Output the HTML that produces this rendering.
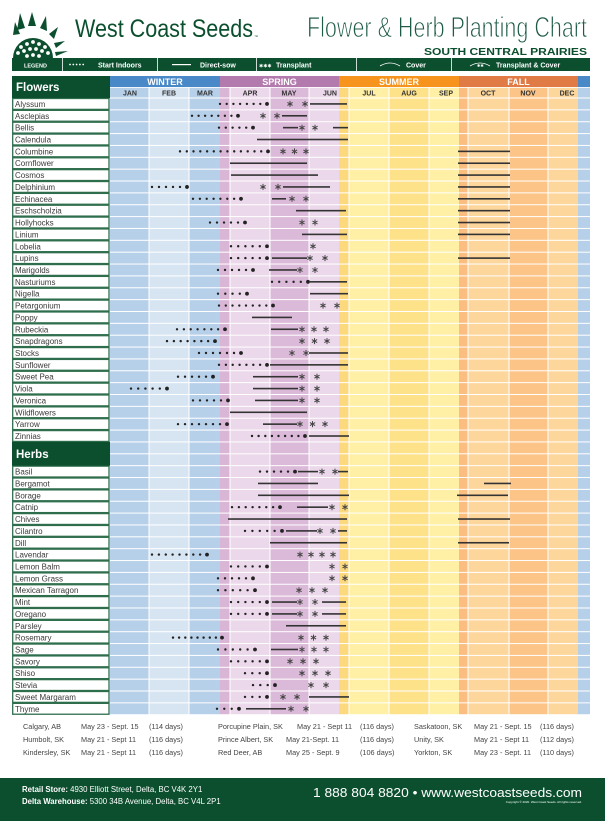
<!DOCTYPE html>
<html><head><meta charset="utf-8"><style>
html,body{margin:0;padding:0;background:#fff;width:605px;height:821px;overflow:hidden}
svg{display:block}
text{font-family:"Liberation Sans",sans-serif}
</style></head><body>
<svg id="s" width="605" height="821" viewBox="0 0 605 821" xmlns="http://www.w3.org/2000/svg"></svg>
<script>
(function(){
const S=document.getElementById('s');let h='';
const G='#0b4f2e';
function R(x,y,w,hh,f,ex){h+=`<rect x="${x}" y="${y}" width="${w}" height="${hh}" fill="${f}" ${ex||''}/>`;}
function T(x,y,t,st){h+=`<text x="${x}" y="${y}" ${st}>${t}</text>`;}
// logo
h+=`<g fill="${G}">`;
h+=`<path d="M13 58 A20 20 0 0 1 53 58 Z"/>`;
h+=`<path d="M17 30 L20 13 L25 28 Z"/><path d="M28 26 L32 12 L36 26 Z"/><path d="M40 28 L46 16 L47 31 Z"/><path d="M49 34 L58 27 L54 39 Z"/><path d="M54 43 L65 41 L56 48 Z"/><path d="M55 52 L68 51 L56 56 Z"/><path d="M13 35 L15 22 L20 34 Z"/>`;
h+=`</g>`;
[[21,47],[27,44],[33,42],[39,44],[45,47],[18,53],[24,51],[30,49],[36,49],[42,51],[48,53],[27,56],[33,55],[39,56]].forEach(([x,y])=>{h+=`<circle cx="${x}" cy="${y}" r="1.9" fill="#fff"/>`;});
T(75,37,'West Coast Seeds',`font-family="Liberation Serif" font-size="25" fill="${G}" textLength="178" lengthAdjust="spacingAndGlyphs"`);
T(254,38,'™',`font-size="4" fill="${G}"`);
T(307,37,'Flower &amp; Herb Planting Chart',`font-size="29" fill="#1d5a48" textLength="280" lengthAdjust="spacingAndGlyphs" stroke="#fff" stroke-width="0.9"`);
T(587,55,'SOUTH CENTRAL PRAIRIES',`font-size="10.5" font-weight="bold" fill="${G}" text-anchor="end" textLength="163" lengthAdjust="spacingAndGlyphs"`);
// legend
R(12,58,578,13,G);
[62,157,256,356,451].forEach(x=>R(x,58,0.8,13,'#fff'));
const lt=`font-size="7" font-weight="bold" fill="#fff"`;
T(24,67.5,'LEGEND',`font-size="5.5" font-weight="bold" fill="#fff"`);
for(let i=0;i<5;i++)h+=`<circle cx="${70+i*3.3}" cy="64.5" r="0.9" fill="#fff"/>`;
T(98,67.5,'Start Indoors',lt);
R(172,64,19,1.2,'#fff');T(200,67.5,'Direct-sow',lt);
T(259,67.5,'✱✱✱',`font-size="5" fill="#fff"`);T(276,67.5,'Transplant',lt);
h+=`<path d="M380 66 Q390 60 400 66" stroke="#fff" fill="none" stroke-width="0.8"/>`;T(406,67.5,'Cover',lt);
h+=`<path d="M470 66 Q480 60 490 66" stroke="#fff" fill="none" stroke-width="0.8"/>`;T(477,67,'✱✱',`font-size="4" fill="#fff"`);T(496,67.5,'Transplant &amp; Cover',lt);
// chart background
const Y0=87,rh=11.86,r0=98,bot=r0+52*rh;
const cols=[[110,149,'#b7d0ea'],[149,189,'#d7e5f3'],[189,220,'#b7d0ea'],[220,230,'#dab6d6'],[230,270,'#ebd8ea'],[270,309,'#dbb9d8'],[309,339,'#ebd8ea'],[339,349,'#fdd97e'],[349,389,'#fff0a5'],[389,429,'#fee28a'],[429,459,'#fff0a5'],[459,468,'#fbbd80'],[468,509,'#fdd69c'],[509,548,'#fcc486'],[548,578,'#fdd69c'],[578,590,'#b7d0ea']];
cols.forEach(([a,b,c])=>R(a,Y0,b-a,bot-Y0,c));
const sx=[[110,220,'#4a89c8','WINTER'],[220,339,'#b37bad','SPRING'],[339,459,'#f7941d','SUMMER'],[459,578,'#e07b45','FALL'],[578,590,'#4a89c8','']];
sx.forEach(([a,b,c,t])=>{R(a,76,b-a,11,c);if(t)T((a+b)/2,85,t,`font-size="9" font-weight="bold" fill="#fff" text-anchor="middle"`);});
[149,189,230,270,309,349,389,429,468,509,548].forEach(x=>R(x-0.5,Y0,1,bot-Y0,'#fff'));
R(110,Y0,480,0.8,'#fff');
for(let i=0;i<=52;i++)R(110,r0+i*rh-0.5,480,1,'#fff');
const mn=[['JAN',130],['FEB',169],['MAR',205],['APR',250],['MAY',289],['JUN',330],['JUL',369],['AUG',409],['SEP',446],['OCT',488],['NOV',528],['DEC',567]];
mn.forEach(([t,x])=>T(x,95.5,t,`font-size="7" font-weight="bold" fill="#333" text-anchor="middle"`));
// data
const F=[
['Alyssum',[['d',220,267,8],['s',290,305,2],['l',310,347]]],
['Asclepias',[['d',192,238,8],['s',263,277,2],['l',282,307]]],
['Bellis',[['d',219,253,6],['l',283,298],['s',302,315,2],['l',333,348]]],
['Calendula',[['l',257,348]]],
['Columbine',[['d',180,268,14],['s',283,306,3],['l',458,510]]],
['Cornflower',[['l',230,307],['l',458,510]]],
['Cosmos',[['l',231,318],['l',458,510]]],
['Delphinium',[['d',152,187,6],['s',263,278,2],['l',283,330],['l',458,510]]],
['Echinacea',[['d',193,241,8],['l',272,286],['s',292,306,2],['l',458,510]]],
['Eschscholzia',[['l',296,346],['l',458,510]]],
['Hollyhocks',[['d',210,245,6],['s',302,315,2],['l',458,510]]],
['Linium',[['l',302,347],['l',458,510]]],
['Lobelia',[['d',231,267,6],['s',313,313,1]]],
['Lupins',[['d',231,267,6],['l',272,307],['s',310,325,2],['l',458,510]]],
['Marigolds',[['d',218,253,6],['l',269,297],['s',300,315,2]]],
['Nasturiums',[['d',272,308,6],['l',310,347]]],
['Nigella',[['d',218,247,5],['l',310,348]]],
['Petargonium',[['d',219,273,9],['s',323,337,2]]],
['Poppy',[['l',252,292]]],
['Rubeckia',[['d',177,225,8],['l',271,298],['s',302,326,3]]],
['Snapdragons',[['d',167,215,8],['s',302,327,3]]],
['Stocks',[['d',199,241,7],['s',292,306,2],['l',309,348]]],
['Sunflower',[['d',219,267,8],['l',270,348]]],
['Sweet Pea',[['d',178,213,6],['l',253,298],['s',302,317,2]]],
['Viola',[['d',131,167,6],['l',253,298],['s',302,317,2]]],
['Veronica',[['d',193,228,6],['l',255,298],['s',302,317,2]]],
['Wildflowers',[['l',230,307]]],
['Yarrow',[['d',178,227,8],['l',263,297],['s',300,325,3]]],
['Zinnias',[['d',252,305,9],['l',309,349]]],
null,null,
['Basil',[['d',260,295,6],['l',298,318],['s',322,335,2],['l',338,348]]],
['Bergamot',[['l',258,318],['l',484,511]]],
['Borage',[['l',258,349],['l',457,508]]],
['Catnip',[['d',232,280,8],['l',297,328],['s',332,345,2]]],
['Chives',[['l',228,347],['l',458,510]]],
['Cilantro',[['d',245,282,6],['l',286,317],['s',320,333,2],['l',338,347]]],
['Dill',[['l',270,347],['l',458,509]]],
['Lavendar',[['d',152,207,9],['s',300,333,4]]],
['Lemon Balm',[['d',231,267,6],['s',332,345,2]]],
['Lemon Grass',[['d',218,253,6],['s',332,345,2]]],
['Mexican Tarragon',[['d',218,255,6],['s',299,325,3]]],
['Mint',[['d',231,267,6],['l',272,297],['s',300,315,2],['l',322,346]]],
['Oregano',[['d',231,267,6],['l',272,297],['s',300,315,2],['l',322,346]]],
['Parsley',[['l',286,346]]],
['Rosemary',[['d',173,222,9],['s',301,326,3]]],
['Sage',[['d',218,255,6],['l',271,298],['s',302,326,3]]],
['Savory',[['d',231,267,6],['s',290,316,3]]],
['Shiso',[['d',245,267,4],['s',302,328,3]]],
['Stevia',[['d',253,275,4],['s',311,326,2]]],
['Sweet Margaram',[['d',245,267,4],['s',283,297,2],['l',309,349]]],
['Thyme',[['d',217,239,4],['l',246,286],['s',291,306,2]]]
];
function star(x,y){let p='';for(let k=0;k<3;k++){const a=k*Math.PI/3+Math.PI/2,dx=3*Math.cos(a),dy=3*Math.sin(a);p+=`M${(x-dx).toFixed(1)} ${(y-dy).toFixed(1)}L${(x+dx).toFixed(1)} ${(y+dy).toFixed(1)}`;}h+=`<path d="${p}" stroke="#444" stroke-width="1"/>`;}
F.forEach((r,i)=>{if(!r)return;const y=r0+i*rh,cy=y+rh/2;
R(12.7,y+0.5,96.3,rh-1,'#fff',`stroke="#2f6e4d" stroke-width="1.3"`);
T(15,cy+3,r[0],`font-size="8" fill="#3a3a3a"`);
r[1].forEach(e=>{if(e[0]=='l')R(e[1],cy-0.8,e[2]-e[1],1.6,'#333');
else if(e[0]=='d'){const n=e[3];for(let k=0;k<n;k++){const x=n>1?e[1]+k*(e[2]-e[1])/(n-1):e[1];h+=`<circle cx="${x.toFixed(1)}" cy="${cy}" r="${k==n-1?1.9:1.2}" fill="#222"/>`;}}
else{const n=e[3];for(let k=0;k<n;k++){const x=n>1?e[1]+k*(e[2]-e[1])/(n-1):e[1];star(x,cy);}}});
});
R(12,76,98,22,G);T(16,91,'Flowers',`font-size="11.5" font-weight="bold" fill="#fff"`);
R(12,r0+29*rh,98,2*rh,G);T(16,r0+29*rh+16,'Herbs',`font-size="11.5" font-weight="bold" fill="#fff"`);
// cities
const ct=`font-size="7.3" fill="#444"`;
const C=[[['Calgary, AB','May 23 - Sept. 15','(114 days)'],['Humbolt, SK','May 21 - Sept 11','(116 days)'],['Kindersley, SK','May 21 - Sept 11','(116 days)']],
[['Porcupine Plain, SK','May 21 - Sept 11','(116 days)'],['Prince Albert, SK','May 21-Sept. 11','(116 days)'],['Red Deer, AB','May 25 - Sept. 9','(106 days)']],
[['Saskatoon, SK','May 21 - Sept. 15','(116 days)'],['Unity, SK','May 21 - Sept 11','(112 days)'],['Yorkton, SK','May 23 - Sept. 11','(110 days)']]];
C.forEach((col,ci)=>col.forEach((r,ri)=>{const y=729+ri*13;let xs;if(ci==0)xs=[23,81,149];else if(ci==1)xs=(ri==0?[218,297,360]:[218,286,360]);else xs=[414,474,540];r.forEach((t,k)=>T(xs[k],y,t,ct));}));
// footer
R(0,778,605,43,G);
T(22,792,'<tspan font-weight="bold">Retail Store:</tspan> 4930 Elliott Street, Delta, BC  V4K 2Y1',`font-size="7.8" fill="#fff"`);
T(22,804,'<tspan font-weight="bold">Delta Warehouse:</tspan> 5300 34B Avenue, Delta, BC  V4L 2P1',`font-size="7.8" fill="#fff"`);
T(313,797,'1 888 804 8820  •  www.westcoastseeds.com',`font-size="13" fill="#fff" textLength="269" lengthAdjust="spacingAndGlyphs"`);
T(582,803,'Copyright © 2020. West Coast Seeds. All rights reserved.',`font-size="3" fill="#fff" text-anchor="end"`);
S.innerHTML=h;
})();
</script>
</body></html>
